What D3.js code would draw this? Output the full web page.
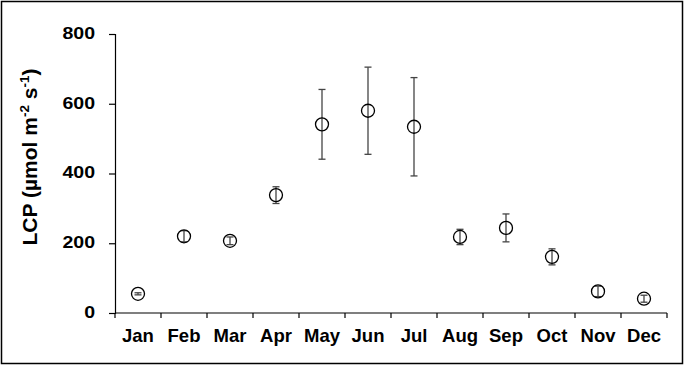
<!DOCTYPE html>
<html>
<head>
<meta charset="utf-8">
<script src="https://cdn.jsdelivr.net/npm/d3@7"></script>
<style>
  body { margin: 0; background: #fff; }
  svg text { font-family: "Liberation Sans", Arial, sans-serif; font-weight: bold; fill: #000; }
</style>
</head>
<body>
<svg id="chart" width="685" height="366"></svg>
<script>
// data
var months = ["Jan", "Feb", "Mar", "Apr", "May", "Jun", "Jul", "Aug", "Sep", "Oct", "Nov", "Dec"];
var lcp    = [55, 220, 207, 338, 541, 580, 534, 218, 244, 161, 62, 41];
var lcpErr = [3, 16, 11, 24, 100, 125, 141, 22, 40, 23, 15, 10];
var yTicks = [0, 200, 400, 600, 800];

var W = 685, H = 366;
var plotLeft = 115, plotRight = 667, plotTop = 34, plotBottom = 313;

var svg = d3.select("#chart");

// outer frame
svg.append("rect")
  .attr("x", 1.5).attr("y", 1.5)
  .attr("width", W - 4).attr("height", H - 4)
  .attr("fill", "none")
  .attr("stroke", "#000")
  .attr("stroke-width", 1.5);

var x = d3.scaleBand().domain(months).range([plotLeft, plotRight]);
var y = d3.scaleLinear().domain([0, 800]).range([plotBottom, plotTop]);

// y axis
var yAxis = d3.axisLeft(y).tickValues(yTicks).tickSize(6).tickPadding(14);
var gy = svg.append("g")
  .attr("transform", "translate(" + plotLeft + ",0)")
  .call(yAxis);
gy.select(".domain").attr("stroke", "#000").attr("stroke-width", 1.2);
gy.selectAll(".tick line").attr("stroke", "#000").attr("stroke-width", 1.2);
gy.selectAll(".tick text")
  .attr("font-size", 17)
  .attr("x", -20 / 1.15)
  .attr("dy", "0.25em")
  .attr("transform", "scale(1.15,1)");

// x axis, ticks on band edges
var edges = months.map(function (m) { return x(m); }).concat([plotRight]);
svg.append("line")
  .attr("x1", plotLeft).attr("x2", plotRight)
  .attr("y1", plotBottom).attr("y2", plotBottom)
  .attr("stroke", "#000").attr("stroke-width", 1.2);
svg.selectAll("line.xtick")
  .data(edges).enter()
  .append("line")
  .attr("class", "xtick")
  .attr("x1", function (d) { return d; })
  .attr("x2", function (d) { return d; })
  .attr("y1", plotBottom).attr("y2", plotBottom + 5)
  .attr("stroke", "#000").attr("stroke-width", 1.2);
svg.selectAll("text.xlab")
  .data(months).enter()
  .append("text")
  .attr("class", "xlab")
  .attr("x", function (d) { return x(d) + x.bandwidth() / 2; })
  .attr("y", 341.5)
  .attr("text-anchor", "middle")
  .attr("font-size", 18.5)
  .text(function (d) { return d; });

// y axis title
var title = svg.append("text")
  .attr("transform", "translate(37," + 157 + ") rotate(-90)")
  .attr("text-anchor", "middle")
  .attr("font-size", 21);
title.append("tspan").text("LCP (µmol m");
title.append("tspan").attr("font-size", 13.5).attr("dy", -8).text("-2");
title.append("tspan").attr("dy", 8).text(" s");
title.append("tspan").attr("font-size", 13.5).attr("dy", -8).text("-1");
title.append("tspan").attr("dy", 8).text(")");

// error bars
var cx = function (d, i) { return x(months[i]) + x.bandwidth() / 2; };
var bars = svg.append("g").attr("stroke", "#444").attr("stroke-width", 1.3);
lcp.forEach(function (v, i) {
  var xc = x(months[i]) + x.bandwidth() / 2;
  var y1 = y(v + lcpErr[i]), y2 = y(v - lcpErr[i]);
  bars.append("line").attr("x1", xc).attr("x2", xc).attr("y1", y1).attr("y2", y2);
  bars.append("line").attr("x1", xc - 3.5).attr("x2", xc + 3.5).attr("y1", y1).attr("y2", y1);
  bars.append("line").attr("x1", xc - 3.5).attr("x2", xc + 3.5).attr("y1", y2).attr("y2", y2);
});

// points
svg.selectAll("circle.pt")
  .data(lcp).enter()
  .append("circle")
  .attr("class", "pt")
  .attr("cx", cx)
  .attr("cy", function (d) { return y(d); })
  .attr("r", 6.5)
  .attr("fill", "none")
  .attr("stroke", "#000")
  .attr("stroke-width", 1.3);
</script>
</body>
</html>
